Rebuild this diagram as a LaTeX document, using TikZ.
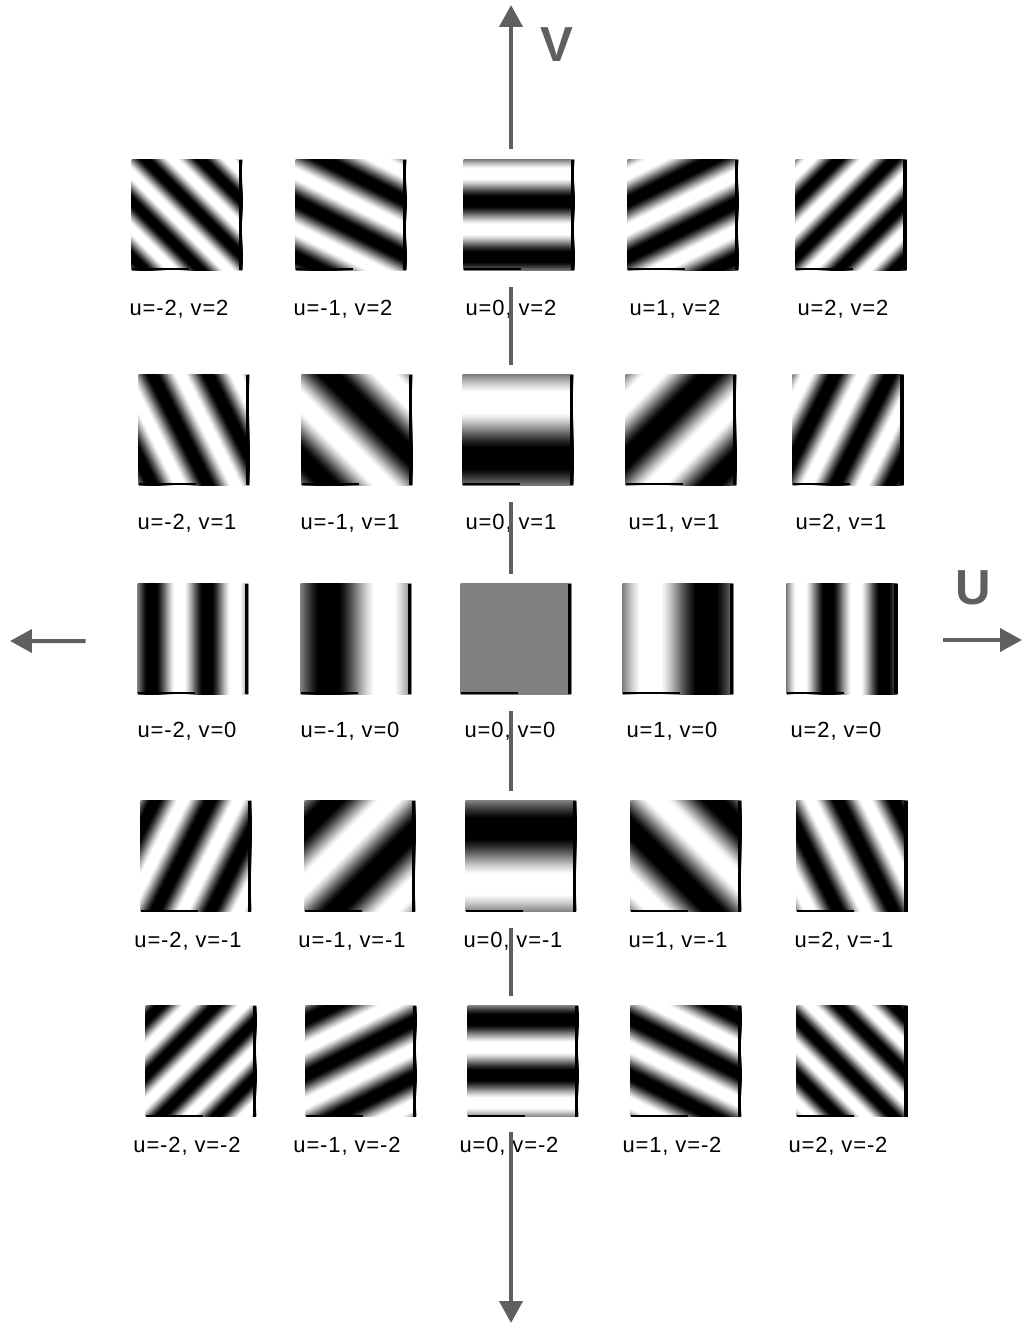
\documentclass[tikz,border=0pt]{standalone}
\usepackage{fontspec}
\usetikzlibrary{arrows.meta}
\newfontfamily\lblfont[LetterSpace=4]{Liberation Sans}
\newfontfamily\axfont{Liberation Sans}
\definecolor{axisgray}{RGB}{95,95,95}
\tikzset{
  gratingbox/.style={minimum size=2.22cm, inner sep=0pt, outer sep=0pt},
  lbl/.style={font=\lblfont\fontsize{12.5}{14}\selectfont, inner sep=0pt},
  axlbl/.style={font=\axfont\bfseries\fontsize{28}{30}\selectfont, text=axisgray, inner sep=0pt},
  axisline/.style={draw=axisgray, line width=0.08cm},
  axisarrow/.style={axisline, -{Triangle[width=0.46cm,length=0.44cm]}},
  imgedge/.style={draw=black, line width=0.07cm},
  imgfoot/.style={draw=black, line width=0.04cm},
}
% sine grating, the path covers the middle 50bp of the 100bp patch
\def\declgrat#1#2{\pgfdeclarefunctionalshading{#1}{\pgfpoint{0bp}{0bp}}{\pgfpoint{100bp}{100bp}}{}{#2}}
\begin{document}
\begin{tikzpicture}[x=0.02cm,y=-0.02cm]
\useasboundingbox (0,0) rectangle (1024,1325);
% the 25 patches, row by row: v / centre y / label y / label shift / centres x
\foreach \vi/\cy/\ly/\lx/\xs in {2/215/309/-8/{187,351,519,683,851},
                                 1/430/523/-7/{194,357,518,681,848},
                                 0/639/731/-6/{193,356,516,678,842},
                                 -1/856/941/-8/{196,360,521,686,852},
                                 -2/1061/1146/-14/{201,361,523,686,852}}{
  \foreach \cx [count=\i] in \xs {
    \pgfmathtruncatemacro\ui{\i-3}
    \pgfmathsetmacro\fu{7.2*\ui}
    \pgfmathsetmacro\fv{-7.2*\vi}
    \pgfmathsetmacro\ph{-180*\ui+540*\vi}
    \edef\next{\noexpand\declgrat{grat\ui v\vi}{\fv\space mul exch \fu\space mul add \ph\space add sin 0.6 mul 0.5 add dup 1 gt {pop 1} if dup 0 lt {pop 0} if dup dup}}\next
    \node[gratingbox, shading=grat\ui v\vi] (g\ui v\vi) at (\cx,\cy) {};
    \draw[imgedge] ([xshift=-0.035cm]g\ui v\vi.north east) -- ([xshift=-0.035cm]g\ui v\vi.south east);
    \draw[imgfoot] ([yshift=0.02cm]g\ui v\vi.south west) -- ([xshift=1.15cm,yshift=0.02cm]g\ui v\vi.south west);
    \node[lbl] (t\ui v\vi) at (\cx+\lx,\ly) {u=\ui, v=\vi};
  }
}
% axes
\coordinate (vx) at (511,0);
\coordinate (vtop) at (511,5);
\coordinate (vbot) at (511,1323);
\coordinate (uleft) at (10,641);
\coordinate (uright) at (1022,640);
\draw[axisarrow, shorten <=0.22cm] (vx |- g0v2.north) -- (vtop);
\foreach \a/\b in {2/1,1/0,0/-1,-1/-2}
  \draw[axisline, shorten <=0.34cm, shorten >=0.2cm] (vx |- g0v\a.south) -- (vx |- g0v\b.north);
\draw[axisarrow, shorten <=0.3cm] (vx |- g0v-2.south) -- (vbot);
\draw[axisarrow] ([xshift=-1.04cm,yshift=-0.04cm]g-2v0.west) -- (uleft);
\draw[axisarrow] ([xshift=0.92cm,yshift=-0.02cm]g2v0.east) -- (uright);
\node[axlbl] (vlab) at (557,45) {V};
\node[axlbl] (ulab) at (973,588) {U};
\end{tikzpicture}
\end{document}
